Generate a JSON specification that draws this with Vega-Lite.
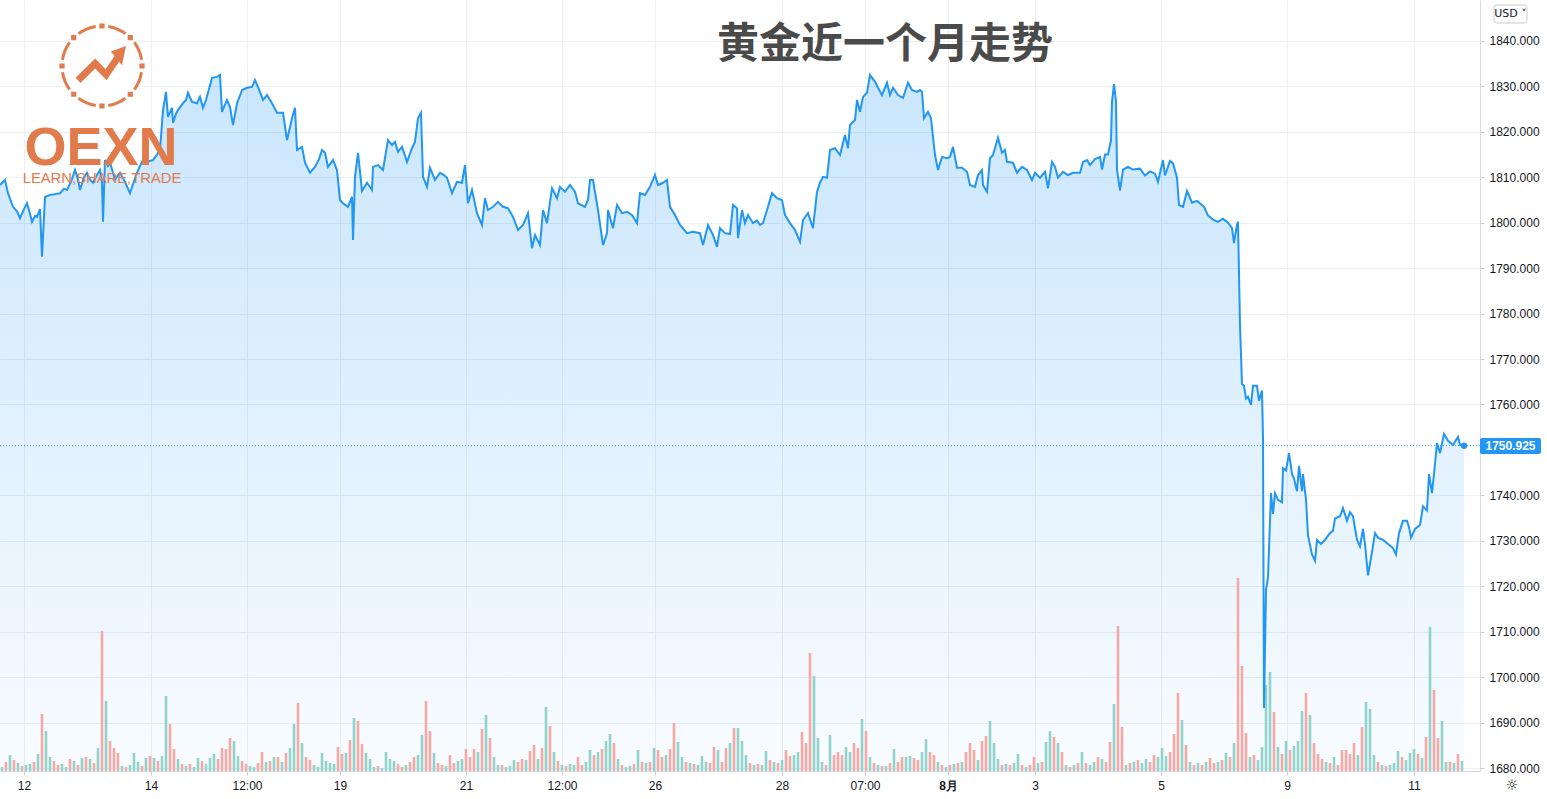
{
"$schema": "https://vega.github.io/schema/vega-lite/v6.json",
"width": 1480, "height": 771,
"autosize": {"type": "none"},
"padding": {"left": 0, "top": 0, "right": 67, "bottom": 28},
"background": "white",
"view": {"stroke": null},
"config": {"font": "Liberation Sans"},
"datasets": {
"price": [
{"i":0,"p":1808.3},{"i":5,"p":1809.4},{"i":8,"p":1806.5},{"i":13,"p":1803.5},{"i":17,"p":1802.5},{"i":20,"p":1801},{"i":24,"p":1803},{"i":27,"p":1804.3},{"i":30,"p":1802},{"i":32,"p":1800.2},{"i":35,"p":1801.5},{"i":37,"p":1801.3},{"i":40,"p":1803},{"i":42,"p":1792.5},{"i":45,"p":1805.7},{"i":50,"p":1806.1},{"i":55,"p":1806.3},{"i":60,"p":1806.5},{"i":64,"p":1807.5},{"i":67,"p":1807.2},{"i":71,"p":1809},{"i":75,"p":1811.6},{"i":78,"p":1809.5},{"i":80,"p":1807.2},{"i":84,"p":1810},{"i":87,"p":1811},{"i":90,"p":1809.5},{"i":93,"p":1808.8},{"i":97,"p":1810.5},{"i":100,"p":1811.6},{"i":102,"p":1809},{"i":103,"p":1800.2},{"i":105,"p":1813.8},{"i":108,"p":1812.5},{"i":110,"p":1813.2},{"i":113,"p":1811},{"i":115,"p":1809.4},{"i":118,"p":1810.5},{"i":120,"p":1811},{"i":125,"p":1809},{"i":130,"p":1806.5},{"i":133,"p":1808.5},{"i":137,"p":1811},{"i":140,"p":1812.5},{"i":143,"p":1813.8},{"i":148,"p":1813.5},{"i":153,"p":1813.8},{"i":157,"p":1815},{"i":160,"p":1816},{"i":163,"p":1824.8},{"i":166,"p":1828.8},{"i":168,"p":1823.3},{"i":172,"p":1825.3},{"i":173,"p":1822},{"i":176,"p":1824},{"i":178,"p":1824.8},{"i":183,"p":1826.3},{"i":186,"p":1827},{"i":188,"p":1828.6},{"i":192,"p":1826.6},{"i":197,"p":1826.3},{"i":200,"p":1827.7},{"i":203,"p":1825.3},{"i":206,"p":1827},{"i":208,"p":1828.6},{"i":212,"p":1831.9},{"i":217,"p":1832.1},{"i":220,"p":1832.5},{"i":222,"p":1824.4},{"i":225,"p":1826},{"i":227,"p":1827},{"i":230,"p":1825.5},{"i":233,"p":1821.5},{"i":237,"p":1826.3},{"i":240,"p":1828},{"i":242,"p":1829.2},{"i":247,"p":1829.7},{"i":252,"p":1829.9},{"i":255,"p":1831.4},{"i":258,"p":1829.9},{"i":263,"p":1827},{"i":267,"p":1828.1},{"i":272,"p":1826.3},{"i":277,"p":1824.2},{"i":283,"p":1824.2},{"i":287,"p":1818.2},{"i":290,"p":1821},{"i":292,"p":1823},{"i":295,"p":1825.3},{"i":297,"p":1816},{"i":302,"p":1816.7},{"i":305,"p":1813.2},{"i":310,"p":1811},{"i":315,"p":1812.3},{"i":319,"p":1814},{"i":322,"p":1816},{"i":325,"p":1815.4},{"i":328,"p":1812.3},{"i":333,"p":1813.8},{"i":337,"p":1811.6},{"i":340,"p":1805},{"i":343,"p":1804.3},{"i":348,"p":1803.5},{"i":352,"p":1805.7},{"i":353,"p":1796.2},{"i":355,"p":1810.1},{"i":358,"p":1815.4},{"i":362,"p":1807},{"i":367,"p":1808.8},{"i":372,"p":1807.2},{"i":373,"p":1812.3},{"i":378,"p":1812.7},{"i":383,"p":1811.6},{"i":388,"p":1818.2},{"i":392,"p":1817.1},{"i":395,"p":1817.8},{"i":398,"p":1815.6},{"i":402,"p":1816.7},{"i":407,"p":1813.4},{"i":412,"p":1816.4},{"i":415,"p":1817.8},{"i":418,"p":1823},{"i":421,"p":1824.2},{"i":423,"p":1810.1},{"i":427,"p":1807.9},{"i":430,"p":1812.1},{"i":435,"p":1809.4},{"i":440,"p":1811},{"i":444,"p":1810.5},{"i":447,"p":1809.9},{"i":452,"p":1806.5},{"i":457,"p":1809},{"i":462,"p":1808.8},{"i":465,"p":1812.7},{"i":468,"p":1804.3},{"i":472,"p":1807.2},{"i":477,"p":1802.1},{"i":482,"p":1799.5},{"i":485,"p":1805.4},{"i":488,"p":1802.8},{"i":493,"p":1803.5},{"i":498,"p":1804.6},{"i":503,"p":1803.5},{"i":508,"p":1803.2},{"i":513,"p":1801.3},{"i":518,"p":1798.4},{"i":523,"p":1799.5},{"i":528,"p":1802.1},{"i":532,"p":1794.4},{"i":535,"p":1797.3},{"i":540,"p":1795.1},{"i":543,"p":1802.8},{"i":547,"p":1799.9},{"i":552,"p":1807.6},{"i":557,"p":1805.4},{"i":560,"p":1807.9},{"i":565,"p":1806.8},{"i":570,"p":1808.3},{"i":575,"p":1806.8},{"i":578,"p":1804.3},{"i":585,"p":1803.5},{"i":588,"p":1805},{"i":590,"p":1809.4},{"i":593,"p":1809.4},{"i":598,"p":1802.8},{"i":603,"p":1795.1},{"i":607,"p":1797.7},{"i":608,"p":1802.8},{"i":613,"p":1798.8},{"i":617,"p":1803.9},{"i":622,"p":1802.1},{"i":627,"p":1802.4},{"i":632,"p":1801.7},{"i":637,"p":1799.9},{"i":640,"p":1806.5},{"i":645,"p":1806.1},{"i":650,"p":1807.9},{"i":655,"p":1810.5},{"i":658,"p":1808.3},{"i":663,"p":1808.8},{"i":667,"p":1809.4},{"i":670,"p":1803.5},{"i":675,"p":1801.7},{"i":680,"p":1799.5},{"i":687,"p":1797.7},{"i":693,"p":1798},{"i":700,"p":1797.7},{"i":703,"p":1795.1},{"i":708,"p":1799.5},{"i":713,"p":1797.3},{"i":717,"p":1794.7},{"i":720,"p":1798.8},{"i":725,"p":1797.7},{"i":730,"p":1797.5},{"i":733,"p":1803.9},{"i":737,"p":1803.2},{"i":738,"p":1796.6},{"i":742,"p":1802.8},{"i":745,"p":1799.9},{"i":748,"p":1801.7},{"i":753,"p":1799.9},{"i":757,"p":1800.5},{"i":760,"p":1799.5},{"i":763,"p":1799.9},{"i":767,"p":1802.8},{"i":772,"p":1806.5},{"i":777,"p":1805.4},{"i":782,"p":1805},{"i":785,"p":1801.7},{"i":790,"p":1799.9},{"i":795,"p":1798.4},{"i":800,"p":1795.8},{"i":803,"p":1800.6},{"i":808,"p":1802.1},{"i":813,"p":1798.8},{"i":817,"p":1806.8},{"i":820,"p":1808.8},{"i":823,"p":1810.1},{"i":827,"p":1809.9},{"i":830,"p":1816},{"i":835,"p":1816.4},{"i":840,"p":1814.9},{"i":845,"p":1819.3},{"i":848,"p":1816.4},{"i":850,"p":1821.5},{"i":855,"p":1822.6},{"i":857,"p":1827},{"i":860,"p":1824.4},{"i":863,"p":1827.7},{"i":867,"p":1828.6},{"i":870,"p":1832.5},{"i":875,"p":1831},{"i":878,"p":1829.7},{"i":882,"p":1828.1},{"i":887,"p":1830.8},{"i":890,"p":1828.1},{"i":893,"p":1829.7},{"i":898,"p":1828.1},{"i":903,"p":1827.5},{"i":908,"p":1830.8},{"i":912,"p":1829.2},{"i":917,"p":1828.8},{"i":920,"p":1829.2},{"i":922,"p":1828.8},{"i":924,"p":1823},{"i":928,"p":1824.4},{"i":931,"p":1823},{"i":935,"p":1814.9},{"i":938,"p":1811.6},{"i":942,"p":1814.5},{"i":947,"p":1814.2},{"i":950,"p":1814.5},{"i":953,"p":1816.7},{"i":957,"p":1812.1},{"i":962,"p":1812.1},{"i":967,"p":1811.2},{"i":970,"p":1808.3},{"i":975,"p":1807.9},{"i":978,"p":1810.5},{"i":982,"p":1811.6},{"i":983,"p":1808.3},{"i":987,"p":1806.8},{"i":990,"p":1814.2},{"i":993,"p":1814.9},{"i":998,"p":1818.7},{"i":1002,"p":1815.4},{"i":1005,"p":1816},{"i":1007,"p":1813.4},{"i":1013,"p":1813.2},{"i":1017,"p":1811},{"i":1022,"p":1812.3},{"i":1027,"p":1811.6},{"i":1032,"p":1809.4},{"i":1035,"p":1811},{"i":1040,"p":1809.9},{"i":1045,"p":1811.2},{"i":1048,"p":1807.6},{"i":1052,"p":1813.4},{"i":1055,"p":1812.3},{"i":1058,"p":1809.9},{"i":1063,"p":1811.2},{"i":1068,"p":1810.5},{"i":1073,"p":1811},{"i":1080,"p":1811},{"i":1083,"p":1813.4},{"i":1087,"p":1813.8},{"i":1090,"p":1812.7},{"i":1095,"p":1814},{"i":1100,"p":1814.5},{"i":1102,"p":1811.7},{"i":1105,"p":1815},{"i":1108,"p":1815},{"i":1111,"p":1818.2},{"i":1112,"p":1826.6},{"i":1114,"p":1830.5},{"i":1116,"p":1826.6},{"i":1117,"p":1811.7},{"i":1120,"p":1807.1},{"i":1123,"p":1811.7},{"i":1128,"p":1812.3},{"i":1133,"p":1811.7},{"i":1140,"p":1811.9},{"i":1145,"p":1810.4},{"i":1150,"p":1811.3},{"i":1155,"p":1810.8},{"i":1158,"p":1809},{"i":1163,"p":1813.8},{"i":1165,"p":1810.4},{"i":1170,"p":1813.6},{"i":1173,"p":1813.1},{"i":1177,"p":1809.9},{"i":1179,"p":1803.9},{"i":1183,"p":1803.5},{"i":1187,"p":1807},{"i":1192,"p":1804.4},{"i":1197,"p":1804.8},{"i":1204,"p":1803.5},{"i":1208,"p":1801.6},{"i":1213,"p":1800.7},{"i":1218,"p":1800.2},{"i":1223,"p":1800.9},{"i":1228,"p":1800},{"i":1232,"p":1798.8},{"i":1234,"p":1795.5},{"i":1237,"p":1799.6},{"i":1238,"p":1800.2},{"i":1240,"p":1777.5},{"i":1242,"p":1764.5},{"i":1244,"p":1764.1},{"i":1246,"p":1761.3},{"i":1248,"p":1761.7},{"i":1251,"p":1759.9},{"i":1253,"p":1764.1},{"i":1257,"p":1764.1},{"i":1259,"p":1760.8},{"i":1262,"p":1763.1},{"i":1263,"p":1752.5},{"i":1264,"p":1693.2},{"i":1266,"p":1719.2},{"i":1268,"p":1722},{"i":1271,"p":1740.5},{"i":1273,"p":1735.9},{"i":1275,"p":1740.5},{"i":1278,"p":1739},{"i":1282,"p":1738.5},{"i":1283,"p":1746},{"i":1286,"p":1745.5},{"i":1289,"p":1749.3},{"i":1292,"p":1744.7},{"i":1294,"p":1743.7},{"i":1297,"p":1740.9},{"i":1299,"p":1746.5},{"i":1302,"p":1740.9},{"i":1303,"p":1744.7},{"i":1306,"p":1739},{"i":1308,"p":1731.2},{"i":1312,"p":1727},{"i":1315,"p":1725.6},{"i":1317,"p":1730.2},{"i":1321,"p":1729.3},{"i":1325,"p":1730.2},{"i":1330,"p":1731.7},{"i":1333,"p":1732.2},{"i":1335,"p":1734.9},{"i":1340,"p":1735.4},{"i":1343,"p":1737.2},{"i":1347,"p":1734.4},{"i":1350,"p":1736.3},{"i":1353,"p":1735.4},{"i":1357,"p":1730.2},{"i":1360,"p":1728.8},{"i":1363,"p":1732.6},{"i":1365,"p":1729.3},{"i":1368,"p":1722.4},{"i":1372,"p":1727.5},{"i":1375,"p":1731.7},{"i":1378,"p":1730.7},{"i":1383,"p":1730.2},{"i":1388,"p":1729.3},{"i":1393,"p":1728.4},{"i":1396,"p":1727},{"i":1399,"p":1731.7},{"i":1403,"p":1734.4},{"i":1407,"p":1734.4},{"i":1409,"p":1733},{"i":1411,"p":1730.7},{"i":1415,"p":1732.6},{"i":1420,"p":1733.5},{"i":1423,"p":1737.6},{"i":1427,"p":1736.7},{"i":1429,"p":1744.7},{"i":1432,"p":1740.5},{"i":1435,"p":1746.9},{"i":1437,"p":1751.5},{"i":1440,"p":1749.3},{"i":1444,"p":1753.5},{"i":1448,"p":1752},{"i":1453,"p":1751.1},{"i":1458,"p":1752.9},{"i":1460,"p":1751.1},{"i":1464,"p":1750.925}
],
"vol": [
{"i":2,"v":4,"d":"u"},{"i":6,"v":9,"d":"d"},{"i":10,"v":16,"d":"u"},{"i":14,"v":11,"d":"d"},{"i":18,"v":8,"d":"u"},{"i":22,"v":5,"d":"d"},{"i":26,"v":6,"d":"u"},{"i":30,"v":7,"d":"u"},{"i":34,"v":9,"d":"d"},{"i":38,"v":17,"d":"u"},
{"i":42,"v":57,"d":"d"},{"i":46,"v":40,"d":"u"},{"i":50,"v":14,"d":"u"},{"i":54,"v":10,"d":"d"},{"i":58,"v":6,"d":"d"},{"i":62,"v":7,"d":"u"},{"i":66,"v":4,"d":"u"},{"i":70,"v":12,"d":"d"},{"i":74,"v":10,"d":"u"},{"i":78,"v":6,"d":"d"},
{"i":82,"v":13,"d":"u"},{"i":86,"v":14,"d":"d"},{"i":90,"v":12,"d":"u"},{"i":94,"v":8,"d":"d"},{"i":98,"v":23,"d":"u"},{"i":102,"v":140,"d":"d"},{"i":106,"v":70,"d":"u"},{"i":110,"v":30,"d":"d"},{"i":114,"v":23,"d":"d"},{"i":118,"v":18,"d":"d"},
{"i":122,"v":5,"d":"u"},{"i":126,"v":4,"d":"d"},{"i":130,"v":6,"d":"u"},{"i":134,"v":18,"d":"u"},{"i":138,"v":9,"d":"u"},{"i":142,"v":5,"d":"d"},{"i":146,"v":13,"d":"u"},{"i":150,"v":15,"d":"d"},{"i":154,"v":13,"d":"u"},{"i":158,"v":10,"d":"d"},
{"i":162,"v":15,"d":"u"},{"i":166,"v":75,"d":"u"},{"i":170,"v":47,"d":"d"},{"i":174,"v":22,"d":"d"},{"i":178,"v":12,"d":"u"},{"i":182,"v":7,"d":"d"},{"i":186,"v":5,"d":"u"},{"i":190,"v":7,"d":"d"},{"i":194,"v":4,"d":"u"},{"i":198,"v":13,"d":"u"},
{"i":202,"v":10,"d":"d"},{"i":206,"v":7,"d":"u"},{"i":210,"v":13,"d":"u"},{"i":214,"v":17,"d":"u"},{"i":218,"v":12,"d":"d"},{"i":222,"v":23,"d":"d"},{"i":226,"v":22,"d":"d"},{"i":230,"v":33,"d":"d"},{"i":234,"v":30,"d":"u"},{"i":238,"v":15,"d":"u"},
{"i":242,"v":10,"d":"d"},{"i":246,"v":7,"d":"d"},{"i":250,"v":5,"d":"u"},{"i":254,"v":4,"d":"u"},{"i":258,"v":8,"d":"d"},{"i":262,"v":19,"d":"d"},{"i":266,"v":9,"d":"u"},{"i":270,"v":10,"d":"d"},{"i":274,"v":14,"d":"u"},{"i":278,"v":14,"d":"d"},
{"i":282,"v":9,"d":"u"},{"i":286,"v":18,"d":"d"},{"i":290,"v":23,"d":"u"},{"i":294,"v":47,"d":"u"},{"i":298,"v":68,"d":"d"},{"i":302,"v":28,"d":"u"},{"i":306,"v":14,"d":"d"},{"i":310,"v":11,"d":"d"},{"i":314,"v":6,"d":"u"},{"i":318,"v":4,"d":"u"},
{"i":322,"v":18,"d":"u"},{"i":326,"v":10,"d":"u"},{"i":330,"v":8,"d":"u"},{"i":334,"v":7,"d":"u"},{"i":338,"v":24,"d":"d"},{"i":342,"v":17,"d":"d"},{"i":346,"v":18,"d":"u"},{"i":350,"v":31,"d":"d"},{"i":354,"v":53,"d":"u"},{"i":358,"v":50,"d":"d"},
{"i":362,"v":27,"d":"d"},{"i":366,"v":18,"d":"u"},{"i":370,"v":12,"d":"u"},{"i":374,"v":4,"d":"u"},{"i":378,"v":5,"d":"d"},{"i":382,"v":3,"d":"u"},{"i":386,"v":19,"d":"u"},{"i":390,"v":12,"d":"u"},{"i":394,"v":10,"d":"u"},{"i":398,"v":7,"d":"d"},
{"i":402,"v":4,"d":"d"},{"i":406,"v":6,"d":"u"},{"i":410,"v":9,"d":"d"},{"i":414,"v":14,"d":"d"},{"i":418,"v":16,"d":"u"},{"i":422,"v":36,"d":"u"},{"i":426,"v":70,"d":"d"},{"i":430,"v":40,"d":"d"},{"i":434,"v":18,"d":"u"},{"i":438,"v":8,"d":"d"},
{"i":442,"v":6,"d":"d"},{"i":446,"v":5,"d":"u"},{"i":450,"v":16,"d":"d"},{"i":454,"v":8,"d":"d"},{"i":458,"v":10,"d":"u"},{"i":462,"v":12,"d":"u"},{"i":466,"v":22,"d":"d"},{"i":470,"v":14,"d":"d"},{"i":474,"v":22,"d":"d"},{"i":478,"v":19,"d":"u"},
{"i":482,"v":42,"d":"d"},{"i":486,"v":56,"d":"u"},{"i":490,"v":33,"d":"d"},{"i":494,"v":14,"d":"u"},{"i":498,"v":6,"d":"u"},{"i":502,"v":6,"d":"d"},{"i":506,"v":4,"d":"u"},{"i":510,"v":5,"d":"u"},{"i":514,"v":11,"d":"u"},{"i":518,"v":9,"d":"d"},
{"i":522,"v":12,"d":"d"},{"i":526,"v":11,"d":"u"},{"i":530,"v":20,"d":"d"},{"i":534,"v":26,"d":"d"},{"i":538,"v":12,"d":"u"},{"i":542,"v":23,"d":"d"},{"i":546,"v":64,"d":"u"},{"i":550,"v":45,"d":"d"},{"i":554,"v":19,"d":"u"},{"i":558,"v":10,"d":"d"},
{"i":562,"v":6,"d":"u"},{"i":566,"v":5,"d":"d"},{"i":570,"v":7,"d":"u"},{"i":574,"v":6,"d":"u"},{"i":578,"v":14,"d":"d"},{"i":582,"v":6,"d":"d"},{"i":586,"v":9,"d":"u"},{"i":590,"v":21,"d":"u"},{"i":594,"v":16,"d":"d"},{"i":598,"v":19,"d":"u"},
{"i":602,"v":22,"d":"d"},{"i":606,"v":30,"d":"u"},{"i":610,"v":37,"d":"u"},{"i":614,"v":28,"d":"d"},{"i":618,"v":12,"d":"u"},{"i":622,"v":6,"d":"d"},{"i":626,"v":4,"d":"u"},{"i":630,"v":5,"d":"u"},{"i":634,"v":7,"d":"d"},{"i":638,"v":21,"d":"u"},
{"i":642,"v":9,"d":"d"},{"i":646,"v":8,"d":"u"},{"i":650,"v":9,"d":"d"},{"i":654,"v":23,"d":"u"},{"i":658,"v":21,"d":"d"},{"i":662,"v":14,"d":"d"},{"i":666,"v":16,"d":"u"},{"i":670,"v":22,"d":"d"},{"i":674,"v":48,"d":"d"},{"i":678,"v":29,"d":"u"},
{"i":682,"v":14,"d":"u"},{"i":686,"v":9,"d":"d"},{"i":690,"v":8,"d":"u"},{"i":694,"v":7,"d":"d"},{"i":698,"v":6,"d":"u"},{"i":702,"v":15,"d":"u"},{"i":706,"v":9,"d":"u"},{"i":710,"v":8,"d":"d"},{"i":714,"v":24,"d":"d"},{"i":718,"v":21,"d":"u"},
{"i":722,"v":9,"d":"d"},{"i":726,"v":23,"d":"d"},{"i":730,"v":28,"d":"u"},{"i":734,"v":43,"d":"d"},{"i":738,"v":43,"d":"u"},{"i":742,"v":30,"d":"u"},{"i":746,"v":16,"d":"u"},{"i":750,"v":8,"d":"d"},{"i":754,"v":6,"d":"u"},{"i":758,"v":7,"d":"d"},
{"i":762,"v":6,"d":"u"},{"i":766,"v":20,"d":"u"},{"i":770,"v":11,"d":"d"},{"i":774,"v":9,"d":"u"},{"i":778,"v":8,"d":"d"},{"i":782,"v":11,"d":"u"},{"i":786,"v":21,"d":"d"},{"i":790,"v":15,"d":"d"},{"i":794,"v":16,"d":"u"},{"i":798,"v":19,"d":"u"},
{"i":802,"v":39,"d":"d"},{"i":806,"v":28,"d":"d"},{"i":810,"v":118,"d":"d"},{"i":814,"v":95,"d":"u"},{"i":818,"v":33,"d":"u"},{"i":822,"v":9,"d":"u"},{"i":826,"v":6,"d":"d"},{"i":830,"v":36,"d":"u"},{"i":834,"v":16,"d":"d"},{"i":838,"v":19,"d":"d"},
{"i":842,"v":16,"d":"d"},{"i":846,"v":24,"d":"u"},{"i":850,"v":19,"d":"u"},{"i":854,"v":28,"d":"d"},{"i":858,"v":23,"d":"d"},{"i":862,"v":52,"d":"u"},{"i":866,"v":40,"d":"d"},{"i":870,"v":14,"d":"u"},{"i":874,"v":8,"d":"d"},{"i":878,"v":6,"d":"u"},
{"i":882,"v":5,"d":"d"},{"i":886,"v":5,"d":"u"},{"i":890,"v":8,"d":"d"},{"i":894,"v":22,"d":"u"},{"i":898,"v":9,"d":"d"},{"i":902,"v":14,"d":"d"},{"i":906,"v":14,"d":"u"},{"i":910,"v":15,"d":"u"},{"i":914,"v":13,"d":"d"},{"i":918,"v":11,"d":"d"},
{"i":922,"v":19,"d":"u"},{"i":926,"v":32,"d":"u"},{"i":930,"v":19,"d":"d"},{"i":934,"v":16,"d":"d"},{"i":938,"v":9,"d":"u"},{"i":942,"v":6,"d":"d"},{"i":946,"v":4,"d":"u"},{"i":950,"v":6,"d":"d"},{"i":954,"v":7,"d":"u"},{"i":958,"v":8,"d":"d"},
{"i":962,"v":9,"d":"u"},{"i":966,"v":19,"d":"d"},{"i":970,"v":28,"d":"d"},{"i":974,"v":21,"d":"d"},{"i":978,"v":11,"d":"u"},{"i":982,"v":30,"d":"d"},{"i":986,"v":35,"d":"d"},{"i":990,"v":50,"d":"u"},{"i":994,"v":28,"d":"u"},{"i":998,"v":12,"d":"u"},
{"i":1002,"v":6,"d":"d"},{"i":1006,"v":7,"d":"u"},{"i":1010,"v":6,"d":"d"},{"i":1014,"v":8,"d":"u"},{"i":1018,"v":17,"d":"u"},{"i":1022,"v":6,"d":"d"},{"i":1026,"v":4,"d":"u"},{"i":1030,"v":6,"d":"d"},{"i":1034,"v":14,"d":"d"},{"i":1038,"v":8,"d":"u"},
{"i":1042,"v":9,"d":"d"},{"i":1046,"v":29,"d":"u"},{"i":1050,"v":40,"d":"u"},{"i":1054,"v":34,"d":"d"},{"i":1058,"v":28,"d":"u"},{"i":1062,"v":19,"d":"d"},{"i":1066,"v":6,"d":"u"},{"i":1070,"v":4,"d":"d"},{"i":1074,"v":6,"d":"u"},{"i":1078,"v":8,"d":"d"},
{"i":1082,"v":19,"d":"u"},{"i":1086,"v":8,"d":"d"},{"i":1090,"v":6,"d":"u"},{"i":1094,"v":9,"d":"u"},{"i":1098,"v":14,"d":"d"},{"i":1102,"v":12,"d":"u"},{"i":1106,"v":9,"d":"d"},{"i":1110,"v":29,"d":"d"},{"i":1114,"v":67,"d":"u"},{"i":1118,"v":145,"d":"d"},
{"i":1122,"v":44,"d":"d"},{"i":1126,"v":6,"d":"u"},{"i":1130,"v":8,"d":"d"},{"i":1134,"v":9,"d":"u"},{"i":1138,"v":11,"d":"d"},{"i":1142,"v":8,"d":"u"},{"i":1146,"v":12,"d":"u"},{"i":1150,"v":9,"d":"d"},{"i":1154,"v":16,"d":"d"},{"i":1158,"v":14,"d":"u"},
{"i":1162,"v":23,"d":"u"},{"i":1166,"v":15,"d":"u"},{"i":1170,"v":19,"d":"d"},{"i":1174,"v":37,"d":"d"},{"i":1178,"v":78,"d":"d"},{"i":1182,"v":51,"d":"u"},{"i":1186,"v":26,"d":"d"},{"i":1190,"v":9,"d":"u"},{"i":1194,"v":6,"d":"d"},{"i":1198,"v":8,"d":"u"},
{"i":1202,"v":6,"d":"d"},{"i":1206,"v":9,"d":"u"},{"i":1210,"v":13,"d":"d"},{"i":1214,"v":8,"d":"d"},{"i":1218,"v":9,"d":"u"},{"i":1222,"v":11,"d":"d"},{"i":1226,"v":18,"d":"u"},{"i":1230,"v":14,"d":"d"},{"i":1234,"v":28,"d":"u"},{"i":1238,"v":193,"d":"d"},
{"i":1242,"v":105,"d":"d"},{"i":1246,"v":38,"d":"d"},{"i":1250,"v":14,"d":"u"},{"i":1254,"v":16,"d":"d"},{"i":1258,"v":11,"d":"u"},{"i":1262,"v":24,"d":"u"},{"i":1266,"v":86,"d":"u"},{"i":1270,"v":99,"d":"u"},{"i":1274,"v":59,"d":"d"},{"i":1278,"v":24,"d":"u"},
{"i":1282,"v":17,"d":"d"},{"i":1286,"v":30,"d":"u"},{"i":1290,"v":21,"d":"d"},{"i":1294,"v":25,"d":"u"},{"i":1298,"v":30,"d":"u"},{"i":1302,"v":60,"d":"u"},{"i":1306,"v":78,"d":"d"},{"i":1310,"v":56,"d":"u"},{"i":1314,"v":28,"d":"d"},{"i":1318,"v":17,"d":"d"},
{"i":1322,"v":12,"d":"d"},{"i":1326,"v":9,"d":"u"},{"i":1330,"v":8,"d":"d"},{"i":1334,"v":14,"d":"u"},{"i":1338,"v":6,"d":"d"},{"i":1342,"v":21,"d":"d"},{"i":1346,"v":21,"d":"d"},{"i":1350,"v":17,"d":"d"},{"i":1354,"v":28,"d":"d"},{"i":1358,"v":16,"d":"u"},
{"i":1362,"v":44,"d":"d"},{"i":1366,"v":69,"d":"u"},{"i":1370,"v":62,"d":"u"},{"i":1374,"v":16,"d":"u"},{"i":1378,"v":9,"d":"d"},{"i":1382,"v":6,"d":"u"},{"i":1386,"v":5,"d":"d"},{"i":1390,"v":6,"d":"u"},{"i":1394,"v":8,"d":"u"},{"i":1398,"v":20,"d":"u"},
{"i":1402,"v":14,"d":"d"},{"i":1406,"v":11,"d":"u"},{"i":1410,"v":18,"d":"u"},{"i":1414,"v":22,"d":"u"},{"i":1418,"v":17,"d":"d"},{"i":1422,"v":13,"d":"u"},{"i":1426,"v":34,"d":"d"},{"i":1430,"v":144,"d":"u"},{"i":1434,"v":81,"d":"d"},{"i":1438,"v":33,"d":"d"},
{"i":1442,"v":50,"d":"u"},{"i":1446,"v":9,"d":"u"},{"i":1450,"v":9,"d":"d"},{"i":1454,"v":8,"d":"u"},{"i":1458,"v":17,"d":"d"},{"i":1462,"v":10,"d":"u"}
]
},
"layer": [
{
"data": {"name": "price"},
"mark": {"type": "area", "interpolate": "linear", "fill": {"gradient": "linear", "x1": 0, "y1": 0, "x2": 0, "y2": 1, "stops": [{"offset": 0, "color": "rgba(33,150,243,0.24)"}, {"offset": 1, "color": "rgba(33,150,243,0.03)"}]}},
"encoding": {
"x": {"field": "i", "type": "quantitative", "scale": {"domain": [0, 1480], "nice": false, "zero": false, "padding": 0},
"axis": {"orient": "bottom", "title": null, "values": [24,151,247,340,466,562,655,782,865,948,1035,1161,1287,1414],
"labelExpr": "['12','14','12:00','19','21','12:00','26','28','07:00','8月','3','5','9','11'][indexof([24,151,247,340,466,562,655,782,865,948,1035,1161,1287,1414], datum.value)]",
"grid": true, "gridColor": "#eceff3", "domainColor": "#d6d9e0", "tickColor": "#c9ccd3", "tickSize": 4, "labelPadding": 5, "labelFontSize": 12, "labelColor": "#131722", "labelFont": "Liberation Sans", "labelOverlap": false, "labelFlush": false,
"labelFontWeight": {"condition": {"test": "datum.value == 948", "value": "bold"}, "value": "normal"}}},
"y": {"field": "p", "type": "quantitative", "scale": {"domain": [1679.34, 1849.02], "nice": false, "zero": false},
"axis": {"orient": "right", "title": null, "values": [1680,1690,1700,1710,1720,1730,1740,1760,1770,1780,1790,1800,1810,1820,1830,1840], "format": ".3f",
"grid": true, "gridColor": "#eceff3", "domainColor": "#d6d9e0", "tickColor": "#c9ccd3", "tickSize": 4, "labelPadding": 5, "labelFontSize": 12, "labelColor": "#131722", "labelFont": "Liberation Sans", "labelOverlap": false}},
"y2": {"datum": 1679.34}
}
},
{
"data": {"name": "vol"},
"mark": {"type": "bar", "width": 2.6, "orient": "vertical"},
"encoding": {
"x": {"field": "i", "type": "quantitative"},
"y": {"field": "v", "type": "quantitative", "scale": {"domain": [0, 771], "nice": false}, "axis": null},
"color": {"field": "d", "type": "nominal", "scale": {"domain": ["u", "d"], "range": ["#92d2cb", "#f6a8a5"]}, "legend": null}
}
},
{
"layer": [
{
"data": {"name": "price"},
"mark": {"type": "line", "color": "#2196f3", "strokeWidth": 2, "interpolate": "linear"},
"encoding": {
"x": {"field": "i", "type": "quantitative"},
"y": {"field": "p", "type": "quantitative", "scale": {"domain": [1679.34, 1849.02], "nice": false, "zero": false}, "axis": null}
}
},
{
"data": {"values": [{}]},
"mark": {"type": "rule", "color": "#2196f3", "strokeWidth": 1, "strokeDash": [1, 2]},
"encoding": {"y": {"datum": 1750.925, "axis": null}}
},
{
"data": {"values": [{}]},
"mark": {"type": "point", "filled": true, "color": "#2196f3", "size": 40, "opacity": 1},
"encoding": {"x": {"datum": 1464}, "y": {"datum": 1750.925, "axis": null}}
},
{
"data": {"values": [{}]},
"mark": {"type": "rect", "color": "#2196f3", "cornerRadius": 2},
"encoding": {"x": {"datum": 1480}, "x2": {"datum": 1541}, "y": {"datum": 1752.63, "axis": null}, "y2": {"datum": 1749.1}}
},
{
"data": {"values": [{}]},
"mark": {"type": "text", "text": "1750.925", "color": "white", "fontWeight": "bold", "fontSize": 12, "font": "Liberation Sans", "align": "center", "baseline": "middle"},
"encoding": {"x": {"datum": 1510.5}, "y": {"datum": 1750.925, "axis": null}}
},
{
"data": {"values": [{}]},
"mark": {"type": "rect", "fill": "white", "stroke": "#c9ccd3", "strokeWidth": 1, "cornerRadius": 3},
"encoding": {"x": {"datum": 1494}, "x2": {"datum": 1527}, "y": {"datum": 1847.92, "axis": null}, "y2": {"datum": 1843.96}}
},
{
"data": {"values": [{}]},
"mark": {"type": "text", "text": "USD ˅", "color": "#131722", "fontSize": 11, "font": "DejaVu Sans", "align": "center", "baseline": "middle"},
"encoding": {"x": {"datum": 1510.5}, "y": {"datum": 1845.94, "axis": null}}
},
{
"data": {"values": [{}]},
"mark": {"type": "text", "text": "☼", "color": "#131722", "fontSize": 15, "font": "DejaVu Sans", "align": "center", "baseline": "middle"},
"encoding": {"x": {"datum": 1512}, "y": {"datum": 1676.2, "axis": null}}
},
{
"data": {"values": [{}]},
"mark": {"type": "text", "text": "黄金近一个月走势", "color": "#4a4a4a", "fontSize": 42, "font": "Noto Sans CJK SC", "fontWeight": "bold", "align": "center", "baseline": "middle"},
"encoding": {"x": {"datum": 885}, "y": {"datum": 1839.1, "axis": null}}
},
{
"data": {"values": [{}]},
"mark": {"type": "point", "shape": "circle", "filled": true, "fill": "white", "strokeWidth": 0, "size": 6400, "opacity": 1},
"encoding": {"x": {"datum": 102}, "y": {"datum": 1834.5, "axis": null}}
},
{
"data": {"values": [{}]},
"mark": {"type": "point", "shape": "M0.988,0.156A1,1,0,0,1,0.809,0.588M0.588,0.809A1,1,0,0,1,0.156,0.988M-0.156,0.988A1,1,0,0,1,-0.588,0.809M-0.809,0.588A1,1,0,0,1,-0.988,0.156M-0.988,-0.156A1,1,0,0,1,-0.809,-0.588M-0.588,-0.809A1,1,0,0,1,-0.156,-0.988M0.156,-0.988A1,1,0,0,1,0.588,-0.809M0.809,-0.588A1,1,0,0,1,0.988,-0.156", "filled": false, "stroke": "#e27b4b", "strokeWidth": 3, "size": 6400, "opacity": 1},
"encoding": {"x": {"datum": 102}, "y": {"datum": 1834.5, "axis": null}}
},
{
"data": {"values": [{}]},
"mark": {"type": "point", "shape": "M-0.6,0.36L-0.17,-0.06L0.1,0.22L0.4,-0.22", "filled": false, "stroke": "#e27b4b", "strokeWidth": 7, "strokeJoin": "miter", "size": 6400, "opacity": 1},
"encoding": {"x": {"datum": 102}, "y": {"datum": 1834.5, "axis": null}}
},
{
"data": {"values": [{}]},
"mark": {"type": "point", "shape": "M0.935,-0.065h0.13v0.13h-0.13ZM0.642,0.642h0.13v0.13h-0.13ZM-0.065,0.935h0.13v0.13h-0.13ZM-0.772,0.642h0.13v0.13h-0.13ZM-1.065,-0.065h0.13v0.13h-0.13ZM-0.772,-0.772h0.13v0.13h-0.13ZM-0.065,-1.065h0.13v0.13h-0.13ZM0.642,-0.772h0.13v0.13h-0.13ZM0.6,-0.5L0.5,-0.02L0.22,-0.36Z", "filled": true, "fill": "#e27b4b", "strokeWidth": 0, "size": 6400, "opacity": 1},
"encoding": {"x": {"datum": 102}, "y": {"datum": 1834.5, "axis": null}}
},
{
"data": {"values": [{}]},
"mark": {"type": "text", "text": "OEXN", "color": "#e27b4b", "fontSize": 54, "font": "Liberation Sans", "fontWeight": "bold", "align": "center", "baseline": "alphabetic"},
"encoding": {"x": {"datum": 101}, "y": {"datum": 1812.7, "axis": null}}
},
{
"data": {"values": [{}]},
"mark": {"type": "text", "text": "LEARN,SHARE,TRADE", "color": "#e27b4b", "fontSize": 14.8, "font": "Liberation Sans", "align": "center", "baseline": "alphabetic"},
"encoding": {"x": {"datum": 102}, "y": {"datum": 1808.8, "axis": null}}
}
]
}
],
"resolve": {"scale": {"y": "independent"}, "axis": {"y": "independent"}}
}
